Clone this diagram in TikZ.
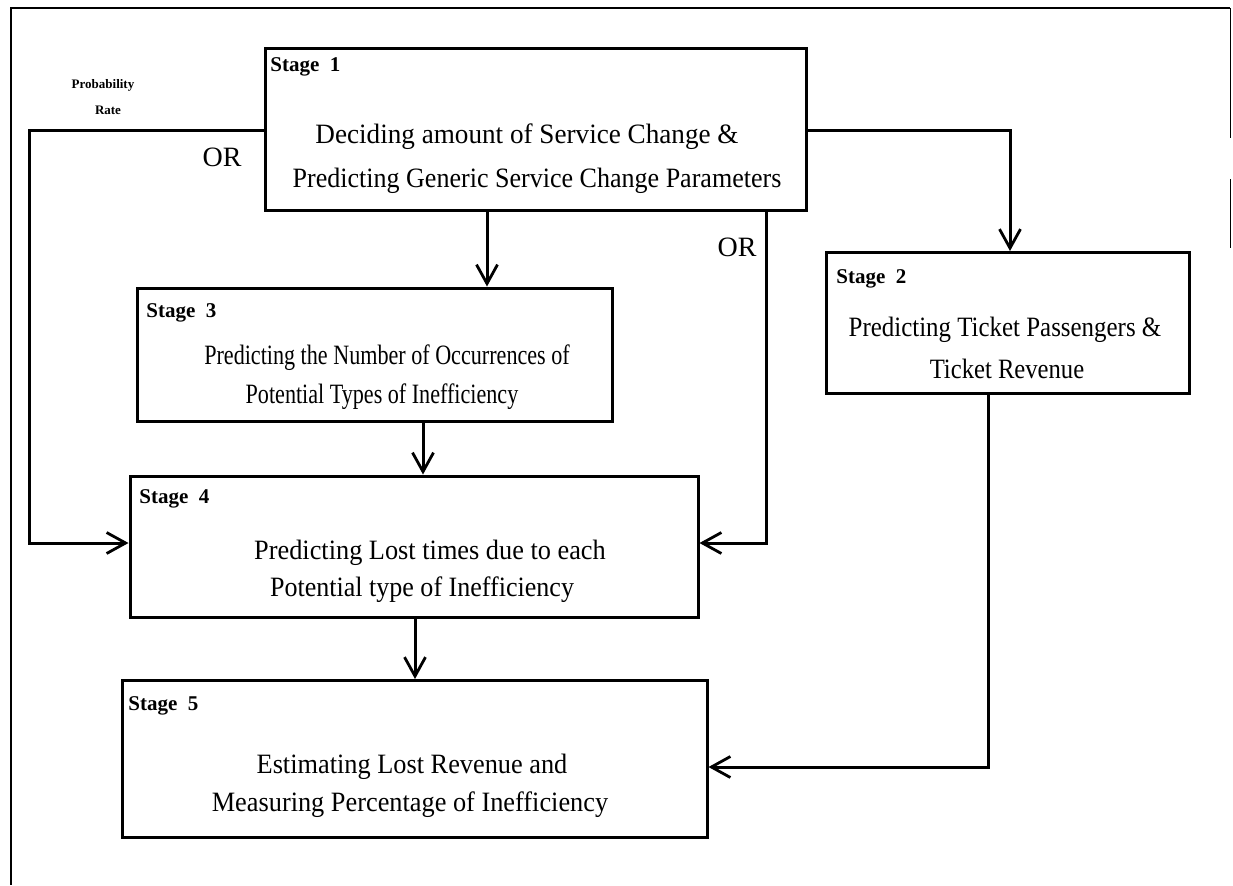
\documentclass[tikz,border=0pt]{standalone}
\usepackage{fontspec}
\setmainfont{Liberation Serif}
\usetikzlibrary{arrows.meta}
\newcommand\hsq[2]{\scalebox{#1}[1]{#2}}
\begin{document}
\begin{tikzpicture}[x=0.5pt,y=-0.5pt,
  stagebox/.style={draw, line width=1.5pt, inner sep=0pt},
  stagelabel/.style={anchor=north west, font=\fontsize{10.5}{12}\selectfont\bfseries, inner sep=0pt},
  bodytext/.style={font=\fontsize{14}{16}\selectfont, inner sep=0pt},
  smalltext/.style={font=\fontsize{6.5}{8}\selectfont\bfseries, inner sep=0pt},
  conn/.style={line width=1.5pt, -{Straight Barb[length=9.5pt,width=10.5pt,line width=1.4pt]}},
  frame/.style={line width=1.2pt}]
\useasboundingbox (0,0) rectangle (1233,885);
% outer frame (open)
\draw[frame] (10,8) -- (1230,8);
\draw[frame] (11,8) -- (11,885);
\draw[line width=0.4pt] (1230,8) -- (1230,138);
\draw[line width=0.4pt] (1230,179) -- (1230,248);

% boxes
\node[stagebox, minimum width=270.5pt, minimum height=81pt] (s1) at (535.5,129) {};
\node[stagebox, minimum width=181.5pt, minimum height=70.5pt] (s2) at (1007.5,323) {};
\node[stagebox, minimum width=237.5pt, minimum height=66.5pt] (s3) at (374.5,354.5) {};
\node[stagebox, minimum width=284pt, minimum height=70.5pt] (s4) at (414,546.5) {};
\node[stagebox, minimum width=292.5pt, minimum height=78.5pt] (s5) at (414.5,759) {};

% stage labels
\node[stagelabel] (l1) at (270,57) {Stage\ \ 1};
\node[stagelabel] (l2) at (836,269) {Stage\ \ 2};
\node[stagelabel] (l3) at (146,303) {Stage\ \ 3};
\node[stagelabel] (l4) at (139,489) {Stage\ \ 4};
\node[stagelabel] (l5) at (128,696) {Stage\ \ 5};

% body texts
\node[bodytext] (t1a) at (527,137) {\hsq{0.97}{Deciding amount of Service Change \&}};
\node[bodytext] (t1b) at (537,181) {\hsq{0.93}{Predicting Generic Service Change Parameters}};
\node[bodytext] (t2a) at (1005,330) {\hsq{0.89}{Predicting Ticket Passengers \&}};
\node[bodytext] (t2b) at (1007,369) {\hsq{0.88}{Ticket Revenue}};
\node[bodytext] (t3a) at (387,358) {\hsq{0.79}{Predicting the Number of Occurrences of}};
\node[bodytext] (t3b) at (382,397) {\hsq{0.79}{Potential Types of Inefficiency}};
\node[bodytext] (t4a) at (430,553) {\hsq{0.94}{Predicting Lost times due to each}};
\node[bodytext] (t4b) at (422,590) {\hsq{0.93}{Potential type of Inefficiency}};
\node[bodytext] (t5a) at (412,767) {\hsq{0.94}{Estimating Lost Revenue and}};
\node[bodytext] (t5b) at (410,805) {\hsq{0.94}{Measuring Percentage of Inefficiency}};

% side labels
\node[smalltext] (pr1) at (103,85) {Probability};
\node[smalltext] (pr2) at (108,110) {Rate};
\node[bodytext] (or1) at (222,157) {OR};
\node[bodytext] (or2) at (737,247) {OR};

% corner coordinates
\coordinate (c1) at (29,130);
\coordinate (c2) at (29,543);
\coordinate (c3) at (1010,130);
\coordinate (c4) at (766,543);
\coordinate (c5) at (988,767);

% connectors
\draw[conn] (s1.west |- c1) -- (c1) -- (c2) -- (s4.west |- c2);
\draw[conn] (s1.east |- c3) -- (c3) -- (s2.north -| c3);
\draw[conn] (s1.south -| 487,0) -- (s3.north -| 487,0);
\draw[conn] (s1.south -| c4) -- (c4) -- (s4.east |- c4);
\draw[conn] (s3.south -| 423,0) -- (s4.north -| 423,0);
\draw[conn] (s4.south -| 415,0) -- (s5.north -| 415,0);
\draw[conn] (s2.south -| c5) -- (c5) -- (s5.east |- c5);
\end{tikzpicture}
\end{document}
